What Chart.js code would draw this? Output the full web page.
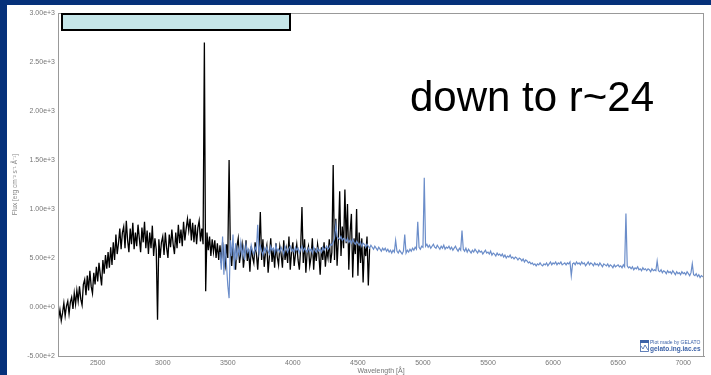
<!DOCTYPE html>
<html>
<head>
<meta charset="utf-8">
<script src="https://cdn.jsdelivr.net/npm/chart.js@4.4.0/dist/chart.umd.min.js"></script>
<style>
    body { margin: 0; background: #06317a; width: 711px; height: 375px; overflow: hidden; }
    #panel { position: absolute; left: 7px; top: 5px; width: 704px; height: 370px; background: #fff; }
</style>
</head>
<body>
<div id="panel"><canvas id="spectrumChart"></canvas></div>
<script>
// Spectrum 1 (black) - wavelength [Å] and flux
const blackWave = [
    2200, 2210, 2220, 2230, 2240, 2250, 2260, 2270, 2280, 2290,
    2300, 2310, 2320, 2330, 2340, 2350, 2360, 2370, 2380, 2390,
    2400, 2410, 2420, 2430, 2440, 2450, 2460, 2470, 2480, 2490,
    2500, 2510, 2520, 2530, 2540, 2550, 2560, 2570, 2580, 2590,
    2600, 2610, 2620, 2630, 2640, 2650, 2660, 2670, 2680, 2690,
    2700, 2710, 2720, 2730, 2740, 2750, 2760, 2770, 2780, 2790,
    2800, 2810, 2820, 2830, 2840, 2850, 2860, 2870, 2880, 2890,
    2900, 2910, 2920, 2930, 2940, 2950, 2960, 2970, 2980, 2990,
    3000, 3010, 3020, 3030, 3040, 3050, 3060, 3070, 3080, 3090,
    3100, 3110, 3120, 3130, 3140, 3150, 3160, 3170, 3180, 3190,
    3200, 3210, 3220, 3230, 3240, 3250, 3260, 3270, 3280, 3290,
    3300, 3310, 3320, 3330, 3340, 3350, 3360, 3370, 3380, 3390,
    3400, 3410, 3420, 3430, 3440, 3450, 3460, 3470, 3480, 3490,
    3500, 3510, 3520, 3530, 3540, 3550, 3560, 3570, 3580, 3590,
    3600, 3610, 3620, 3630, 3640, 3650, 3660, 3670, 3680, 3690,
    3700, 3710, 3720, 3730, 3740, 3750, 3760, 3770, 3780, 3790,
    3800, 3810, 3820, 3830, 3840, 3850, 3860, 3870, 3880, 3890,
    3900, 3910, 3920, 3930, 3940, 3950, 3960, 3970, 3980, 3990,
    4000, 4010, 4020, 4030, 4040, 4050, 4060, 4070, 4080, 4090,
    4100, 4110, 4120, 4130, 4140, 4150, 4160, 4170, 4180, 4190,
    4200, 4210, 4220, 4230, 4240, 4250, 4260, 4270, 4280, 4290,
    4300, 4310, 4320, 4330, 4340, 4350, 4360, 4370, 4380, 4390,
    4400, 4410, 4420, 4430, 4440, 4450, 4460, 4470, 4480, 4490,
    4500, 4510, 4520, 4530, 4540, 4550, 4560, 4570, 4580, 4590];
const blackFlux = [
    -120, -30, -140, -60, 40, -90, 10, 60, -70, 50,
    100, -20, 140, 30, 170, 60, 210, 80, 20, 230,
    280, 120, 320, 170, 370, 210, 140, 350, 230, 410,
    260, 450, 330, 220, 480, 340, 530, 390, 560, 400,
    610, 430, 660, 480, 740, 540, 650, 800, 590, 760,
    820, 600, 880, 680, 560, 800, 640, 860, 590, 760,
    620, 840, 700, 560, 810, 660, 870, 600, 780, 540,
    760, 600, 830, 520, 700, 590, -130, 690, 500, 660,
    720, 530, 760, 600, 500, 740, 610, 790, 640, 540,
    760, 600, 840, 650, 790, 620, 870, 680, 800, 900,
    780, 900, 680, 860, 660, 840, 640, 810, 880, 670,
    800, 640, 2700, 160, 760, 580, 720, 520, 690, 560,
    680, 500, 650, 480, 630, 450, 660, 500, 420, 640,
    500, 1500, 560, 420, 650, 500, 380, 620, 700, 450,
    560, 640, 400, 530, 680, 470, 590, 360, 620, 510,
    450, 660, 540, 380, 600, 970, 480, 690, 410, 560,
    630, 350, 520, 700, 460, 590, 400, 650, 510, 430,
    620, 540, 400, 680, 480, 590, 450, 720, 380, 560,
    660, 420, 540, 640, 480, 380, 600, 1020, 450, 690,
    350, 560, 620, 420, 510, 700, 380, 600, 470, 640,
    540, 330, 610, 480, 660, 410, 580, 500, 690, 450,
    560, 1450, 480, 900, 420, 700, 1180, 520, 820, 600,
    1200, 650, 1050, 380, 760, 950, 300, 700, 540, 1000,
    320, 760, 450, 700, 250, 620, 520, 720, 220, 600];

// Spectrum 2 (blue)
const blueWave = [
    3440, 3450, 3460, 3470, 3480, 3490,
    3500, 3510, 3520, 3530, 3540, 3550, 3560, 3570, 3580, 3590,
    3600, 3610, 3620, 3630, 3640, 3650, 3660, 3670, 3680, 3690,
    3700, 3710, 3720, 3730, 3740, 3750, 3760, 3770, 3780, 3790,
    3800, 3810, 3820, 3830, 3840, 3850, 3860, 3870, 3880, 3890,
    3900, 3910, 3920, 3930, 3940, 3950, 3960, 3970, 3980, 3990,
    4000, 4010, 4020, 4030, 4040, 4050, 4060, 4070, 4080, 4090,
    4100, 4110, 4120, 4130, 4140, 4150, 4160, 4170, 4180, 4190,
    4200, 4210, 4220, 4230, 4240, 4250, 4260, 4270, 4280, 4290,
    4300, 4310, 4320, 4330, 4340, 4350, 4360, 4370, 4380, 4390,
    4400, 4410, 4420, 4430, 4440, 4450, 4460, 4470, 4480, 4490,
    4500, 4510, 4520, 4530, 4540, 4550, 4560, 4570, 4580, 4590,
    4600, 4610, 4620, 4630, 4640, 4650, 4660, 4670, 4680, 4690,
    4700, 4710, 4720, 4730, 4740, 4750, 4760, 4770, 4780, 4790,
    4800, 4810, 4820, 4830, 4840, 4850, 4860, 4870, 4880, 4890,
    4900, 4910, 4920, 4930, 4940, 4950, 4960, 4970, 4980, 4990,
    5000, 5010, 5020, 5030, 5040, 5050, 5060, 5070, 5080, 5090,
    5100, 5110, 5120, 5130, 5140, 5150, 5160, 5170, 5180, 5190,
    5200, 5210, 5220, 5230, 5240, 5250, 5260, 5270, 5280, 5290,
    5300, 5310, 5320, 5330, 5340, 5350, 5360, 5370, 5380, 5390,
    5400, 5410, 5420, 5430, 5440, 5450, 5460, 5470, 5480, 5490,
    5500, 5510, 5520, 5530, 5540, 5550, 5560, 5570, 5580, 5590,
    5600, 5610, 5620, 5630, 5640, 5650, 5660, 5670, 5680, 5690,
    5700, 5710, 5720, 5730, 5740, 5750, 5760, 5770, 5780, 5790,
    5800, 5810, 5820, 5830, 5840, 5850, 5860, 5870, 5880, 5890,
    5900, 5910, 5920, 5930, 5940, 5950, 5960, 5970, 5980, 5990,
    6000, 6010, 6020, 6030, 6040, 6050, 6060, 6070, 6080, 6090,
    6100, 6110, 6120, 6130, 6140, 6150, 6160, 6170, 6180, 6190,
    6200, 6210, 6220, 6230, 6240, 6250, 6260, 6270, 6280, 6290,
    6300, 6310, 6320, 6330, 6340, 6350, 6360, 6370, 6380, 6390,
    6400, 6410, 6420, 6430, 6440, 6450, 6460, 6470, 6480, 6490,
    6500, 6510, 6520, 6530, 6540, 6550, 6560, 6570, 6580, 6590,
    6600, 6610, 6620, 6630, 6640, 6650, 6660, 6670, 6680, 6690,
    6700, 6710, 6720, 6730, 6740, 6750, 6760, 6770, 6780, 6790,
    6800, 6810, 6820, 6830, 6840, 6850, 6860, 6870, 6880, 6890,
    6900, 6910, 6920, 6930, 6940, 6950, 6960, 6970, 6980, 6990,
    7000, 7010, 7020, 7030, 7040, 7050, 7060, 7070, 7080, 7090,
    7100, 7110, 7120, 7130, 7140, 7150, 7160];
const blueFlux = [
    560, 380, 720, 330, 640, 430,
    220, 90, 680, 520, 740, 380, 650, 480, 600, 540,
    660, 520, 610, 480, 640, 560, 590, 520, 630, 570,
    540, 610, 580, 840, 550, 620, 570, 530, 600, 560,
    610, 570, 540, 620, 580, 600, 550, 630, 570, 590,
    560, 610, 580, 540, 620, 590, 560, 600, 620, 570,
    590, 560, 610, 580, 600, 550, 590, 620, 570, 600,
    580, 560, 600, 570, 590, 550, 610, 580, 560, 600,
    570, 590, 560, 610, 580, 600, 620, 590, 610, 640,
    630, 660, 700, 840, 720, 700, 690, 720, 680, 700,
    690, 670, 700, 660, 680, 650, 690, 660, 640, 670,
    650, 630, 660, 620, 650, 640, 610, 640, 620, 600,
    630, 610, 590, 620, 600, 580, 610, 590, 570, 600,
    580, 600, 570, 590, 560, 580, 550, 580, 560, 680,
    570, 550, 580, 560, 540, 570, 740, 550, 580, 560,
    590, 570, 600, 580, 610, 590, 870, 610, 590, 620,
    610, 1320, 620, 640, 610, 630, 600, 620, 640, 610,
    600, 630, 610, 590, 620, 600, 630, 590, 610, 600,
    620, 590, 610, 580, 600, 620, 590, 570, 600, 580,
    780, 590, 570, 600, 560, 590, 570, 550, 580, 560,
    590, 570, 550, 580, 560, 570, 540, 560, 580, 550,
    560, 540, 570, 530, 550, 540, 520, 550, 530, 540,
    520, 540, 510, 530, 500, 520, 510, 530, 500, 510,
    490, 510, 500, 480, 500, 490, 470, 490, 460, 480,
    470, 450, 460, 440, 450, 430, 440, 420, 440, 430,
    450, 430, 420, 440, 430, 450, 420, 440, 460, 430,
    450, 440, 460, 430, 450, 440, 460, 430, 440, 450,
    430, 450, 440, 460, 320, 440, 450, 430, 460, 440,
    450, 430, 460, 440, 450, 420, 440, 460, 430, 450,
    440, 420, 450, 430, 440, 420, 450, 430, 410, 440,
    430, 420, 440, 410, 430, 420, 400, 430, 410, 420,
    430, 410, 420, 400, 430, 410, 955, 420, 400, 410,
    390, 410, 380, 400, 390, 410, 380, 390, 370, 400,
    380, 390, 370, 390, 380, 360, 390, 370, 380, 370,
    470, 370, 360, 380, 350, 370, 360, 340, 370, 350,
    360, 340, 370, 350, 330, 360, 340, 350, 330, 360,
    340, 350, 330, 360, 340, 320, 350, 440, 330, 320,
    340, 310, 330, 300, 320, 310, 300];

// Tick labels
const xTicks = [2500, 3000, 3500, 4000, 4500, 5000, 5500, 6000, 6500, 7000];
const yTicks = [-500, 0, 500, 1000, 1500, 2000, 2500, 3000];

const tickColor = '#777';
const tickFont = { family: 'Liberation Sans', size: 7 };

// Khung, hop mau xanh, chu lon, logo
const decorations = {
    id: 'decorations',
    afterDraw(chart) {
        const c = chart.ctx;
        const a = chart.chartArea;
        c.save();
        // plot frame
        c.strokeStyle = '#999';
        c.lineWidth = 1;
        c.strokeRect(a.left + 0.5, a.top + 0.5, a.right - a.left - 1, a.bottom - a.top);
        // light blue box at the top
        c.fillStyle = '#c5e6e9';
        c.fillRect(a.left + 4, a.top + 1, 228, 16);
        c.strokeStyle = '#000';
        c.lineWidth = 2;
        c.strokeRect(a.left + 4, a.top + 1, 228, 16);
        // big annotation
        c.fillStyle = '#000';
        c.font = '42px "Liberation Sans", Arial, sans-serif';
        c.textBaseline = 'alphabetic';
        c.fillText('down to r~24', 403, 106);
        // GELATO logo
        const lx = a.right - 64, ly = a.bottom - 16;
        c.fillStyle = '#3d63a8';
        c.fillRect(lx, ly, 9, 3);
        c.strokeStyle = '#3d63a8';
        c.lineWidth = 0.8;
        c.strokeRect(lx + 0.5, ly + 0.5, 8, 11);
        c.beginPath();
        c.moveTo(lx + 1, ly + 6);
        c.lineTo(lx + 3, ly + 9);
        c.lineTo(lx + 5, ly + 5);
        c.lineTo(lx + 8, ly + 10);
        c.stroke();
        c.font = '5px "Liberation Sans", Arial, sans-serif';
        c.textBaseline = 'middle';
        c.fillText('Plot made by GELATO', lx + 10, ly + 3);
        c.font = 'bold 6.5px "Liberation Sans", Arial, sans-serif';
        c.fillText('gelato.ing.iac.es', lx + 10, ly + 9);
        c.restore();
    }
};

const ctx = document.getElementById('spectrumChart').getContext('2d');

new Chart(ctx, {
    type: 'line',
    data: {
        datasets: [{
            label: 'blue',
            data: blueWave.map((w, i) => ({ x: w, y: blueFlux[i] })),
            borderColor: '#6b8dc9',
            borderWidth: 1.2,
            pointRadius: 0,
            order: 0
        }, {
            label: 'black',
            data: blackWave.map((w, i) => ({ x: w, y: blackFlux[i] })),
            borderColor: '#000',
            borderWidth: 1.3,
            pointRadius: 0,
            order: 1
        }]
    },
    options: {
        responsive: true,
        maintainAspectRatio: false,
        animation: false,
        layout: { padding: { left: 4, top: 8, right: 7, bottom: 0 } },
        plugins: {
            legend: { display: false },
            tooltip: { enabled: false }
        },
        scales: {
            x: {
                type: 'linear',
                min: 2195,
                max: 7160,
                afterBuildTicks: (scale) => { scale.ticks = xTicks.map(v => ({ value: v })); },
                afterFit: (scale) => { scale.height = 19; },
                grid: { drawOnChartArea: false, drawTicks: false, color: '#999' },
                border: { color: '#999' },
                ticks: {
                    color: tickColor,
                    font: tickFont,
                    padding: 3,
                    maxRotation: 0,
                    autoSkip: false,
                    callback: (v) => String(v)
                },
                title: {
                    display: true,
                    text: 'Wavelength [Å]',
                    color: tickColor,
                    font: tickFont,
                    padding: 0
                }
            },
            y: {
                min: -500,
                max: 3000,
                afterBuildTicks: (scale) => { scale.ticks = yTicks.map(v => ({ value: v })); },
                afterFit: (scale) => { scale.width = 47; },
                grid: { drawOnChartArea: false, drawTicks: false, color: '#999' },
                border: { color: '#999' },
                ticks: {
                    color: tickColor,
                    font: tickFont,
                    padding: 3,
                    callback: (v) => Number(v).toExponential(2)
                },
                title: {
                    display: true,
                    text: 'Flux [erg cm⁻² s⁻¹ Å⁻¹]',
                    color: '#888',
                    font: { family: 'Liberation Sans', size: 6.5 },
                    padding: 0
                }
            }
        }
    },
    plugins: [decorations]
});
</script>
</body>
</html>
